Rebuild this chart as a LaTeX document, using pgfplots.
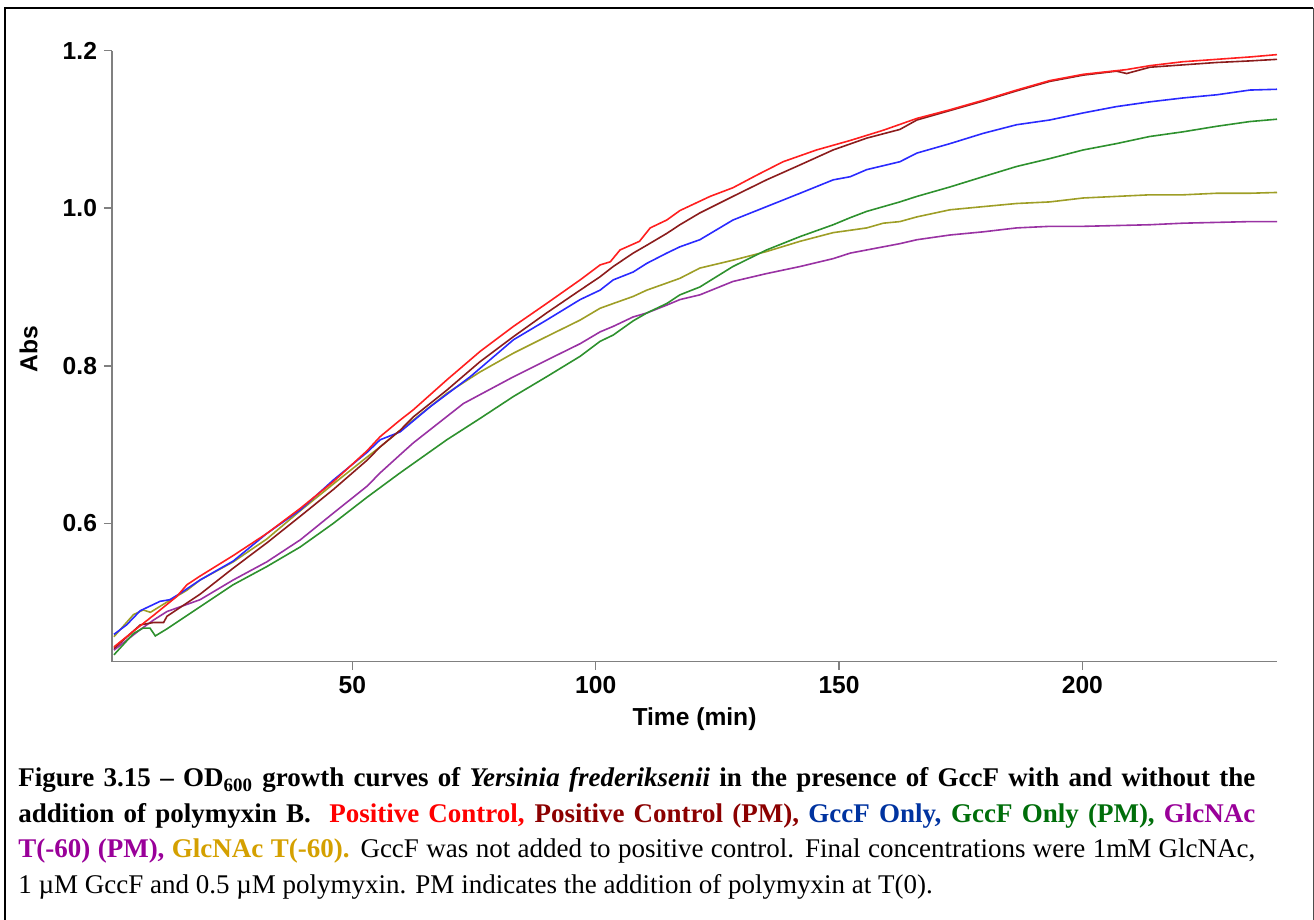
\documentclass[border=0pt]{standalone}
\usepackage{pgfplots}
\pgfplotsset{compat=1.18}
\usepackage{fontspec}
\setmainfont{Liberation Serif}
\setsansfont{Liberation Sans}
\definecolor{axisgray}{HTML}{808080}
\definecolor{cRed}{HTML}{FF1F1F}
\definecolor{cBrown}{HTML}{8B1C1C}
\definecolor{cBlue}{HTML}{2A2AFF}
\definecolor{cGreen}{HTML}{2E912E}
\definecolor{cOlive}{HTML}{9E9E26}
\definecolor{cPurple}{HTML}{9932A3}
\definecolor{tRed}{HTML}{FF0000}
\definecolor{tDark}{HTML}{8B0000}
\definecolor{tBlue}{HTML}{0033A0}
\definecolor{tGreen}{HTML}{006E0A}
\definecolor{tPurple}{HTML}{990099}
\definecolor{tGold}{HTML}{D4A000}
\begin{document}
\begin{tikzpicture}
\path[use as bounding box] (0,0) rectangle (657pt,460pt);
\draw[line width=1pt,black] (2.5pt,0pt) -- (2.5pt,455.85pt) -- (656.6pt,455.85pt);
\draw[line width=0.6pt,black!70] (656.6pt,455.85pt) -- (656.6pt,0pt);
\begin{axis}[
  at={(56pt,129.15pt)}, anchor=south west,
  width=582.5pt, height=305.5pt, scale only axis,
  xmin=0.6, xmax=240, ymin=0.4243, ymax=1.2,
  axis x line*=bottom, axis y line*=left,
  axis line style={draw=axisgray, line width=0.75pt, -},
  xtick={50,100,150,200}, ytick={0.6,0.8,1.0,1.2},
  tick align=outside, major tick length=4pt,
  tick style={draw=axisgray, line width=0.75pt},
  tick label style={font=\sffamily\bfseries\fontsize{12.3}{14}\selectfont},
  /pgf/number format/assume math mode=true,
  yticklabel style={/pgf/number format/.cd, fixed, fixed zerofill, precision=1, assume math mode=true},
  xlabel={Time (min)}, ylabel={Abs},
  label style={font=\sffamily\bfseries\fontsize{12.3}{14}\selectfont},
  xlabel style={at={(axis description cs:0.5,-0.1052)}, anchor=base},
  ylabel style={at={(axis description cs:-0.0641,0.5115)}, anchor=base},
  clip=false,
  every axis plot/.append style={line width=0.8pt, mark=none},
]
% Olive: GlcNAc T(-60)
\addplot[cOlive] coordinates {(1,0.456)(5,0.484)(7,0.490)(8.5,0.487)(11.9,0.500)(16,0.515)(18.7,0.528)(25.5,0.551)(32.4,0.580)(39.3,0.616)(46.1,0.650)(53,0.684)(55.7,0.697)(59.8,0.718)(62.5,0.731)(69.4,0.765)(76.2,0.792)(83.1,0.816)(89.9,0.837)(96.8,0.858)(100.9,0.873)(103.6,0.879)(107.7,0.888)(110.5,0.896)(114.6,0.905)(117.3,0.911)(121.4,0.924)(128.2,0.934)(135.1,0.945)(142,0.958)(148.8,0.969)(152.3,0.972)(155.7,0.975)(159.1,0.981)(162.5,0.983)(166,0.989)(172.8,0.998)(179.6,1.002)(186.5,1.006)(193.3,1.008)(200.2,1.013)(207,1.015)(213.8,1.017)(220.7,1.017)(227.6,1.019)(234.4,1.019)(240,1.020)};
% Purple: GlcNAc T(-60) (PM)
\addplot[cPurple] coordinates {(1,0.439)(6.4,0.465)(9.1,0.477)(11.9,0.488)(18.7,0.503)(25.5,0.528)(32.4,0.551)(39.3,0.579)(46.1,0.613)(53,0.647)(55.7,0.664)(59.8,0.687)(62.5,0.702)(72.8,0.752)(83.1,0.786)(89.9,0.807)(96.8,0.828)(100.9,0.843)(103.6,0.850)(107.7,0.862)(110.5,0.867)(114.6,0.877)(117.3,0.884)(121.4,0.890)(128.2,0.907)(135.1,0.917)(142,0.926)(148.8,0.936)(152.3,0.943)(155.7,0.947)(159.1,0.951)(162.5,0.955)(166,0.960)(172.8,0.966)(179.6,0.970)(186.5,0.975)(193.3,0.977)(200.2,0.977)(207,0.978)(213.8,0.979)(220.7,0.981)(227.6,0.982)(234.4,0.983)(240,0.983)};
% Green: GccF Only (PM)
\addplot[cGreen] coordinates {(1,0.433)(5,0.460)(7,0.467)(8.4,0.467)(9.5,0.457)(11.9,0.466)(18.7,0.494)(25.5,0.522)(32.4,0.545)(39.3,0.570)(46.1,0.600)(53,0.633)(59.8,0.664)(69.4,0.706)(76.2,0.733)(83.1,0.761)(89.9,0.786)(96.8,0.812)(100.9,0.831)(103.6,0.839)(107.7,0.857)(110.5,0.867)(114.6,0.879)(117.3,0.890)(121.4,0.900)(128.2,0.926)(135.1,0.947)(142,0.964)(148.8,0.979)(152.3,0.988)(155.7,0.996)(159.1,1.002)(162.5,1.008)(166,1.015)(172.8,1.027)(179.6,1.040)(186.5,1.053)(193.3,1.063)(200.2,1.074)(207,1.082)(213.8,1.091)(220.7,1.097)(227.6,1.104)(234.4,1.110)(240,1.113)};
% Blue: GccF Only
\addplot[cBlue] coordinates {(1,0.459)(3.6,0.471)(6.4,0.489)(10.5,0.501)(12.5,0.503)(14.6,0.511)(18.7,0.528)(25.5,0.552)(32.4,0.587)(39.3,0.617)(46.1,0.655)(53,0.690)(55.7,0.706)(59.8,0.716)(66,0.748)(74.2,0.786)(83.1,0.833)(89.9,0.858)(96.8,0.884)(100.9,0.896)(103.6,0.909)(107.7,0.919)(110.5,0.930)(114.6,0.943)(117.3,0.951)(121.4,0.960)(128.2,0.985)(135.1,1.002)(142,1.019)(148.8,1.036)(152.3,1.040)(155.7,1.049)(159.1,1.054)(162.5,1.059)(166,1.070)(172.8,1.082)(179.6,1.095)(186.5,1.106)(193.3,1.112)(200.2,1.121)(207,1.129)(213.8,1.135)(220.7,1.140)(227.6,1.144)(234.4,1.150)(240,1.151)};
% Brown: Positive Control (PM)
\addplot[cBrown] coordinates {(1,0.441)(6.4,0.471)(9.1,0.474)(11.2,0.474)(11.9,0.482)(18.7,0.510)(25.5,0.543)(32.4,0.575)(39.3,0.609)(46.1,0.643)(53,0.680)(55.7,0.697)(59.8,0.718)(62.5,0.735)(69.4,0.769)(76.2,0.805)(83.1,0.837)(89.9,0.867)(96.8,0.896)(100.9,0.913)(103.6,0.926)(107.7,0.943)(110.5,0.953)(114.6,0.968)(117.3,0.979)(121.4,0.994)(128.2,1.015)(135.1,1.036)(142,1.055)(148.8,1.074)(155.7,1.089)(162.5,1.100)(166,1.112)(172.8,1.124)(179.6,1.136)(186.5,1.149)(193.3,1.161)(200.2,1.169)(207,1.174)(209.1,1.171)(213.9,1.179)(220.7,1.182)(227.6,1.185)(234.4,1.187)(240,1.189)};
% Red: Positive Control
\addplot[cRed] coordinates {(1,0.443)(5,0.463)(9.1,0.483)(13.9,0.507)(16,0.522)(18.7,0.533)(25.5,0.559)(32.4,0.587)(39.3,0.619)(46.1,0.653)(53,0.692)(55.7,0.710)(59.8,0.731)(62.5,0.744)(69.4,0.782)(76.2,0.818)(83.1,0.850)(89.9,0.879)(96.8,0.909)(100.9,0.928)(103,0.932)(105,0.947)(109,0.958)(111.2,0.975)(114.6,0.985)(117.3,0.997)(123.5,1.015)(128.2,1.026)(133.1,1.042)(138.5,1.059)(145.4,1.074)(152.3,1.086)(159.1,1.099)(166,1.114)(172.8,1.125)(179.6,1.137)(186.5,1.150)(193.3,1.162)(200.2,1.170)(209.1,1.176)(213.9,1.181)(220.7,1.186)(227.6,1.189)(234.4,1.192)(240,1.195)};
\end{axis}
\node[anchor=base west, inner sep=0pt, text width=618.5pt, align=justify,
      font=\fontsize{13.5}{17.75}\selectfont] at (9pt,66.5pt)
{\textbf{Figure 3.15 – OD\textsubscript{600} growth curves of \textit{Yersinia frederiksenii} in the presence of GccF with and without the}\linebreak
\textbf{addition of polymyxin B.}\ \ \textcolor{tRed}{\textbf{Positive Control,}} \textcolor{tDark}{\textbf{Positive Control (PM),}} \textcolor{tBlue}{\textbf{GccF Only,}} \textcolor{tGreen}{\textbf{GccF Only (PM),}} \textcolor{tPurple}{\textbf{GlcNAc}}\linebreak
\textcolor{tPurple}{\textbf{T(-60) (PM),}} \textcolor{tGold}{\textbf{GlcNAc T(-60).}} GccF was not added to positive control. Final concentrations were 1mM GlcNAc,\linebreak
1 µM GccF and 0.5 µM polymyxin. PM indicates the addition of polymyxin at T(0).};
\end{tikzpicture}
\end{document}
